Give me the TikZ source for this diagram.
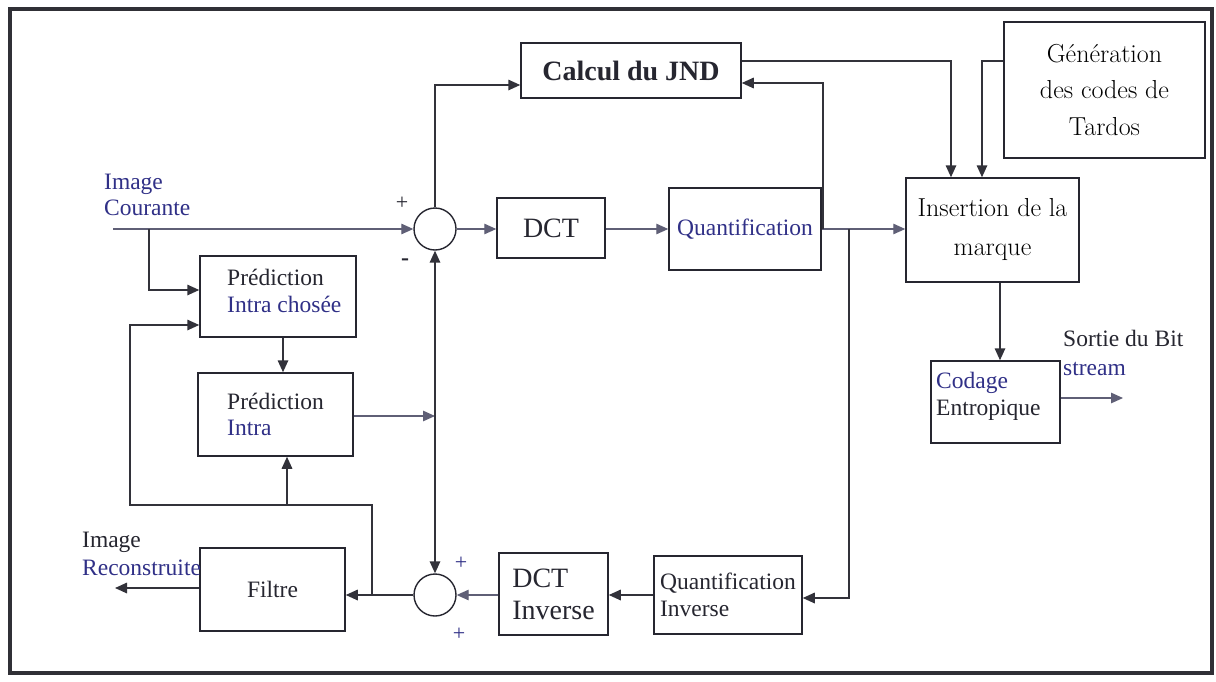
\documentclass[tikz,border=0pt]{standalone}
\usepackage{fontspec}
\newfontfamily\tnr{Liberation Serif}
\usetikzlibrary{arrows.meta}
\definecolor{ink}{RGB}{38,38,48}
\definecolor{wiredark}{RGB}{50,50,58}
\definecolor{wirelight}{RGB}{95,95,118}
\definecolor{bluetxt}{RGB}{48,48,135}
\definecolor{framecol}{RGB}{48,48,54}
\begin{document}
\begin{tikzpicture}[x=1pt,y=-1pt,
  box/.style={draw=ink, line width=1.5pt, inner sep=0pt, align=left},
  txt/.style={font=\tnr\fontsize{23.5}{26.5}\selectfont, text=ink},
  bigtxt/.style={font=\tnr\fontsize{28}{32}\selectfont, text=ink},
  boldtxt/.style={font=\tnr\bfseries\fontsize{28}{32}\selectfont, text=ink},
  lmtxt/.style={font=\fontsize{26}{36.5}\selectfont, text=black},
  sumnode/.style={circle, draw=ink, line width=1.4pt, minimum size=42pt, inner sep=0pt},
  tip/.style={-{Triangle[length=12pt,width=10.5pt]}},
  bothtips/.style={{Triangle[length=12pt,width=10.5pt]}-{Triangle[length=12pt,width=10.5pt]}},
  wireD/.style={draw=wiredark, line width=1.6pt},
  wireL/.style={draw=wirelight, line width=1.2pt}
]
\useasboundingbox (0,0) rectangle (1216,681);
\fill[white] (0,0) rectangle (1216,681);
% outer frame
\draw[framecol, line width=3.5pt] (10,9) rectangle (1212,673);

% processing blocks
\node[box, boldtxt, minimum width=220pt, minimum height=55pt] (jnd) at (631,70.5) {Calcul du JND};
\node[box, lmtxt, align=center, minimum width=201pt, minimum height=136pt] (gen) at (1104.5,90) {Génération\\des codes de\\Tardos};
\node[box, bigtxt, minimum width=108pt, minimum height=60pt] (dct) at (551,228) {DCT};
\node[box, txt, text=bluetxt, minimum width=152pt, minimum height=82pt] (quant) at (745,229) {Quantification};
\node[box, lmtxt, font=\fontsize{26}{39}\selectfont, align=center, minimum width=173pt, minimum height=104pt] (ins) at (992.5,230) {Insertion de la\\marque};
\node[box, minimum width=129pt, minimum height=82pt] (cod) at (995.5,402) {};
\node[txt, align=left, anchor=north west, inner sep=0pt] (codT) at (936,372) {\textcolor{bluetxt}{Codage}\\Entropique};
\node[box, minimum width=156pt, minimum height=81pt] (chos) at (278,296.5) {};
\node[txt, align=left, anchor=north west, inner sep=0pt] (chosT) at (227,269) {Prédiction\\\textcolor{bluetxt}{Intra chosée}};
\node[box, txt, minimum width=155pt, minimum height=83pt] (intra) at (275.5,414.5) {Prédiction\\\textcolor{bluetxt}{Intra}};
\node[box, txt, minimum width=145pt, minimum height=83pt] (filt) at (272.5,589.5) {Filtre};
\node[box, bigtxt, minimum width=109pt, minimum height=82pt] (dcti) at (553.5,594) {DCT\\Inverse};
\node[box, txt, minimum width=148pt, minimum height=78pt] (qi) at (728,595) {Quantification\\Inverse};

% summing junctions and their signs
\node[sumnode] (s1) at (435,229) {};
\node[sumnode] (s2) at (435,595) {};
\node[txt, font=\tnr\fontsize{22}{24}\selectfont, text=ink] (p1) at (402,203) {+};
\node[txt, font=\tnr\bfseries\fontsize{24}{26}\selectfont] (m1) at (405,262) {-};
\node[txt, font=\tnr\fontsize{22}{24}\selectfont, text=bluetxt] (p2) at (461,563) {+};
\node[txt, font=\tnr\fontsize{22}{24}\selectfont, text=bluetxt] (p3) at (459,634) {+};

% free labels
\node[txt, text=bluetxt, align=left, anchor=north west, inner sep=0pt, font=\tnr\fontsize{23.5}{26}\selectfont] (inlab) at (104,174) {Image\\Courante};
\node[txt, align=left, anchor=north west, inner sep=0pt, font=\tnr\fontsize{23.5}{28}\selectfont] (reclab) at (82,532) {Image\\\textcolor{bluetxt}{Reconstruite}};
\node[txt, align=left, anchor=north west, inner sep=0pt, font=\tnr\fontsize{23.5}{29}\selectfont] (outlab) at (1063,330) {Sortie du Bit\\\textcolor{bluetxt}{stream}};

% connection points
\coordinate (in) at (113,229);
\coordinate (b1) at (149,229);
\coordinate (fb) at (823,229);
\coordinate (j) at (849,229);
\coordinate (out) at (1123,398);
\coordinate (ro) at (115,588);
\coordinate (v) at (435,416);
\coordinate (fb2) at (372,595);
\coordinate (lp) at (130,505);
\coordinate (jb) at (287,505);

% forward path
\draw[wireL, tip] (in) -- (s1.west);
\draw[wireD, tip] (b1) |- (chos.west |- 0,290);
\draw[wireD, tip] (s1.north) |- (jnd.west |- 0,85);
\draw[wireL, tip] (s1.east) -- (dct.west |- s1.east);
\draw[wireL, tip] (dct.east |- s1.east) -- (quant.west |- s1.east);
\draw[wireL, tip] (quant.east |- s1.east) -- (ins.west |- s1.east);
\draw[wireD, tip] (fb) |- (jnd.east |- 0,83);
\draw[wireD, tip] (jnd.east |- 0,61) -| (ins.north -| 951,0);
\draw[wireD, tip] (gen.west |- 0,61) -| (ins.north -| 982,0);
\draw[wireD, tip] (ins.south -| 1000,0) -- (cod.north -| 1000,0);
\draw[wireL, tip] (cod.east |- out) -- (out);

% reconstruction loop
\draw[wireD, tip] (j) |- (qi.east |- 0,598);
\draw[wireD, tip] (qi.west |- 0,595) -- (dcti.east |- 0,595);
\draw[wireL, tip] (dcti.west |- s2.east) -- (s2.east);
\draw[wireD, tip] (s2.west) -- (filt.east |- s2.west);
\draw[wireD, tip] (filt.west |- ro) -- (ro);
\draw[wireD, tip] (chos.south -| 283,0) -- (intra.north -| 283,0);
\draw[wireL, tip] (intra.east |- v) -- (v);
\draw[wireD, bothtips] (s1.south) -- (s2.north);
\draw[wireD, tip] (fb2) |- (lp) |- (chos.west |- 0,325);
\draw[wireD, tip] (jb) -- (intra.south -| jb);
\end{tikzpicture}
\end{document}
